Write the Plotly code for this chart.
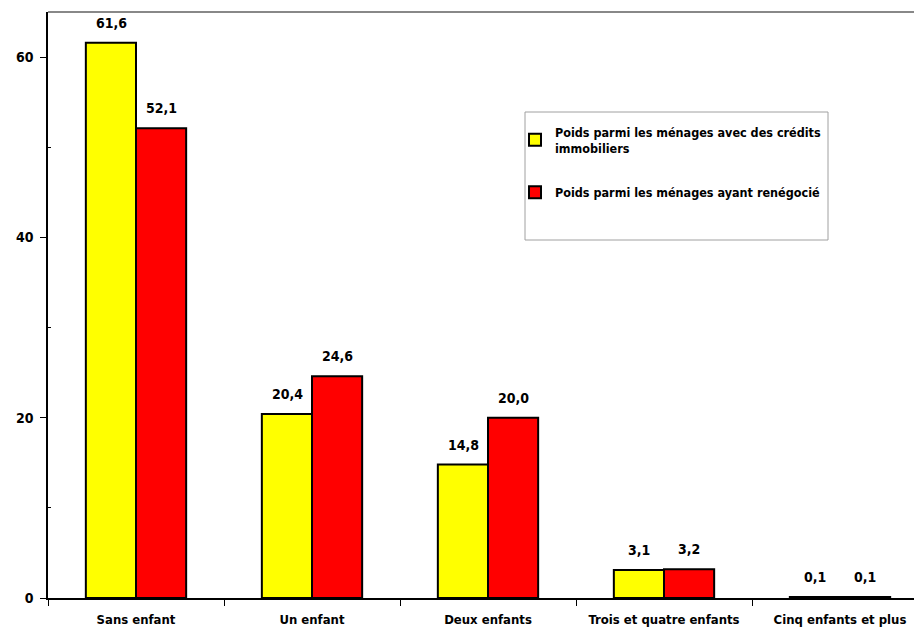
import plotly.graph_objects as go

categories = ["Sans enfant", "Un enfant", "Deux enfants", "Trois et quatre enfants", "Cinq enfants et plus"]
series_names = [
    "Poids parmi les ménages avec des crédits<br>immobiliers",
    "Poids parmi les ménages ayant renégocié",
]
credits_immo = [61.6, 20.4, 14.8, 3.1, 0.1]
renegocie = [52.1, 24.6, 20.0, 3.2, 0.1]
y_ticks = [0, 20, 40, 60]

FONT = "DejaVu Sans Condensed"
W, H = 914, 631
L, R, T, B = 48, 0, 12, 33
PW, PH = W - L - R, H - T - B


def fr(v):
    return f"{v:.1f}".replace(".", ",")


def px_x(px):
    return (px - L) / PW


def px_y(py):
    return (H - B - py) / PH


fig = go.Figure()
colors = ["#FFFF00", "#FF0000"]
for name, vals, col in zip(series_names, [credits_immo, renegocie], colors):
    fig.add_trace(go.Bar(
        x=categories, y=vals, name=name, legendgroup=name,
        marker=dict(color=col, line=dict(color="black", width=2)),
    ))

# value labels above each bar
for vals, shift in [(credits_immo, -25), (renegocie, 25)]:
    for c, v in zip(categories, vals):
        fig.add_annotation(
            x=c, y=v, text=fr(v), showarrow=False,
            xshift=shift, yshift=20, yanchor="middle",
            font=dict(family=FONT, size=14, color="black", weight="bold"),
        )

# plot top border and legend frame
fig.add_shape(type="line", xref="paper", yref="paper", x0=0, x1=1, y0=1, y1=1,
              line=dict(color="#888888", width=2))
fig.add_shape(type="rect", xref="paper", yref="paper",
              x0=px_x(525), x1=px_x(828), y0=px_y(240), y1=px_y(112),
              line=dict(color="#A0A0A0", width=1), fillcolor="white", layer="below")

fig.update_layout(
    width=W, height=H,
    margin=dict(l=L, r=R, t=T, b=B),
    plot_bgcolor="white", paper_bgcolor="white",
    barmode="group", bargap=0.43, bargroupgap=0,
    showlegend=True,
    legend=dict(
        x=px_x(515), y=px_y(117), xanchor="left", yanchor="top",
        bgcolor="rgba(0,0,0,0)", borderwidth=0,
        font=dict(family=FONT, size=12.5, color="black", weight="bold"),
        traceorder="grouped", tracegroupgap=25,
        itemwidth=30,
    ),
    font=dict(family=FONT, color="black"),
)
fig.update_xaxes(
    type="category", range=[-0.5, -0.5 + PW / 176],
    showline=True, linecolor="black", linewidth=1.5,
    ticks="outside", tickson="boundaries", ticklen=6, tickcolor="black",
    tickfont=dict(family=FONT, size=13, color="black", weight="bold"),
    ticklabelstandoff=9,
    showgrid=False, zeroline=False,
)
fig.update_yaxes(
    range=[0, 65], tickvals=y_ticks,
    showline=True, linecolor="black", linewidth=1.5,
    ticks="outside", ticklen=6, tickcolor="black",
    tickfont=dict(family=FONT, size=14, color="black", weight="bold"),
    ticklabelstandoff=4,
    minor=dict(tickvals=[10, 30, 50], ticks="inside", ticklen=3, tickcolor="black"),
    showgrid=False, zeroline=False,
)

fig.write_html("out.html")
